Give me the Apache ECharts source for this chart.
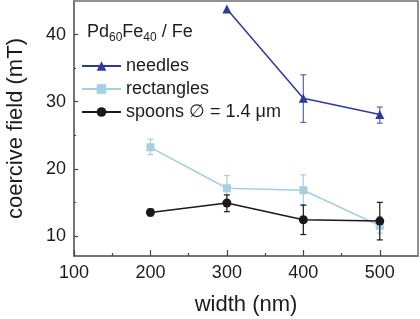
<!DOCTYPE html>
<html><head><meta charset="utf-8">
<script src="https://cdn.jsdelivr.net/npm/echarts@6/dist/echarts.min.js"></script>
<style>html,body{margin:0;padding:0;background:#fff}#c{width:420px;height:319px}</style>
</head><body><div id="c"></div>
<script>
var widths = [200, 300, 400, 500];
var needles = [null, 43.8, 30.5, 28.1];
var needlesLow = [null, null, 26.9, 26.8];
var needlesHigh = [null, null, 34.0, 29.2];
var rectangles = [23.2, 17.1, 16.8, 11.5];
var rectanglesLow = [22.1, 15.2, 14.5, 10.4];
var rectanglesHigh = [24.4, 19.0, 19.1, 12.9];
var spoons = [13.5, 14.9, 12.4, 12.2];
var spoonsLow = [13.0, 13.6, 10.2, 9.4];
var spoonsHigh = [14.0, 16.1, 14.6, 15.0];
var xLabels = [100, 200, 300, 400, 500];
var xMinor = [150, 250, 350, 450];
var yLabels = [10, 20, 30, 40];
var yMinor = [15, 25, 35];

var cNeedles = '#2d3a9c', cRect = '#a4d0e2', cSpoons = '#1a1a1a';
var FONT = 'Liberation Sans';
var TXT = '#1c1c1c';

function pairs(vals){ return widths.map(function(w,i){ return vals[i]==null?null:[w, vals[i]]; }).filter(Boolean); }
function errData(lo, hi){ var r=[]; widths.forEach(function(w,i){ if(lo[i]!=null) r.push([w, lo[i], hi[i]]); }); return r; }
function errSeries(lo, hi, color, z){
  return {
    type:'custom', z:z, silent:true,
    data: errData(lo, hi),
    encode:{x:0, y:[1,2]},
    renderItem:function(params, api){
      var p1 = api.coord([api.value(0), api.value(1)]);
      var p2 = api.coord([api.value(0), api.value(2)]);
      var hw = 3;
      var st = {stroke: color, lineWidth: 1.2};
      return {type:'group', children:[
        {type:'line', shape:{x1:p1[0], y1:p1[1], x2:p2[0], y2:p2[1]}, style:st},
        {type:'line', shape:{x1:p1[0]-hw, y1:p1[1], x2:p1[0]+hw, y2:p1[1]}, style:st},
        {type:'line', shape:{x1:p2[0]-hw, y1:p2[1], x2:p2[0]+hw, y2:p2[1]}, style:st}
      ]};
    }
  };
}
var axisLineStyle = {color:'#6e6e6e', width:1.5};
var chart = echarts.init(document.getElementById('c'), null, {renderer:'canvas'});
chart.setOption({
  animation:false,
  backgroundColor:'#fff',
  textStyle:{fontFamily:FONT},
  grid:{left:74, top:1, right:2, bottom:63, containLabel:false, outerBoundsMode:'none',
        show:true, borderColor:'#6e6e6e', borderWidth:1.5},
  title:{
    left:87, top:21, padding:0,
    text:'{a|Pd}{s|60}{a|Fe}{s|40}{a| / Fe}',
    textStyle:{fontWeight:'normal', rich:{
      a:{fontFamily:FONT, fontSize:18, fontWeight:'normal', color:TXT, verticalAlign:'bottom', lineHeight:20},
      s:{fontFamily:FONT, fontSize:12, fontWeight:'normal', color:TXT, verticalAlign:'bottom', lineHeight:14, padding:[0,0,-3,0]}
    }}
  },
  legend:{
    orient:'vertical', left:81, top:57, padding:0, itemWidth:39, itemHeight:12, itemGap:5, itemTextGap:7,
    data:['needles','rectangles','spoons ∅ = 1.4 μm'],
    textStyle:{fontFamily:FONT, fontSize:18, color:TXT}
  },
  xAxis:[{
    type:'value', min:100, max:550, position:'bottom',
    name:'width (nm)', nameLocation:'middle', nameGap:38,
    nameTextStyle:{fontFamily:FONT, fontSize:22, color:TXT},
    axisLine:{show:true, lineStyle:axisLineStyle},
    axisTick:{show:true, inside:true, length:6, customValues:xLabels, lineStyle:{color:'#444', width:1.2}},
    axisLabel:{customValues:xLabels, margin:8, fontFamily:FONT, fontSize:18, color:TXT},
    splitLine:{show:false}
  },{
    type:'value', min:100, max:550, position:'bottom', offset:0,
    axisLine:{show:false},
    axisTick:{show:true, inside:true, length:3, customValues:xMinor, lineStyle:{color:'#444', width:1.2}},
    axisLabel:{show:false}, splitLine:{show:false}
  }],
  yAxis:[{
    type:'value', min:7, max:45, position:'left',
    name:'coercive field (mT)', nameLocation:'middle', nameGap:47,
    nameTextStyle:{fontFamily:FONT, fontSize:22, color:TXT},
    axisLine:{show:true, lineStyle:axisLineStyle},
    axisTick:{show:true, inside:true, length:4, customValues:yLabels, lineStyle:{color:'#444', width:1.2}},
    axisLabel:{customValues:yLabels, margin:8, fontFamily:FONT, fontSize:18, color:TXT},
    splitLine:{show:false}
  },{
    type:'value', min:7, max:45, position:'left', offset:0,
    axisLine:{show:false},
    axisTick:{show:true, inside:true, length:2, customValues:yMinor, lineStyle:{color:'#444', width:1.2}},
    axisLabel:{show:false}, splitLine:{show:false}
  }],
  series:[
    errSeries(needlesLow, needlesHigh, '#5a63b5', 2),
    {name:'needles', type:'line', z:3, data:pairs(needles), symbol:'triangle', symbolSize:9,
     itemStyle:{color:cNeedles}, lineStyle:{color:cNeedles, width:1.5}},
    errSeries(rectanglesLow, rectanglesHigh, cRect, 4),
    {name:'rectangles', type:'line', z:5, data:pairs(rectangles), symbol:'rect', symbolSize:8,
     itemStyle:{color:cRect}, lineStyle:{color:cRect, width:1.5}},
    errSeries(spoonsLow, spoonsHigh, cSpoons, 6),
    {name:'spoons ∅ = 1.4 μm', type:'line', z:7, data:pairs(spoons), symbol:'circle', symbolSize:9,
     itemStyle:{color:cSpoons}, lineStyle:{color:cSpoons, width:1.5}}
  ]
});
</script>
</body></html>
